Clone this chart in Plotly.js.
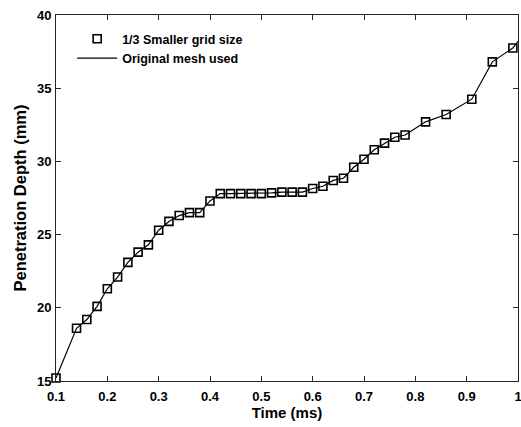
<!DOCTYPE html>
<html>
<head>
<meta charset="utf-8">
<script src="https://cdn.plot.ly/plotly-3.0.1.min.js"></script>
<style>html,body{margin:0;padding:0;background:#fff;}#chart{width:521px;height:427px;}</style>
</head>
<body>
<div id="chart"></div>
<script>
var timeFine = [0.10,0.14,0.16,0.18,0.20,0.22,0.24,0.26,0.28,0.30,0.32,0.34,0.36,0.38,0.40,0.42,0.44,0.46,0.48,0.50,0.52,0.54,0.56,0.58,0.60,0.62,0.64,0.66,0.68,0.70,0.72,0.74,0.76,0.78,0.82,0.86,0.91,0.95,0.99];
var depthFine = [15.2,18.6,19.2,20.1,21.3,22.1,23.1,23.8,24.3,25.3,25.9,26.3,26.5,26.5,27.3,27.8,27.8,27.8,27.8,27.8,27.85,27.9,27.9,27.9,28.15,28.3,28.7,28.85,29.6,30.15,30.8,31.25,31.65,31.8,32.7,33.2,34.25,36.8,37.75];
var timeOrig = [0.10,0.14,0.16,0.18,0.20,0.22,0.24,0.26,0.28,0.30,0.32,0.34,0.36,0.38,0.40,0.42,0.44,0.46,0.48,0.50,0.52,0.54,0.56,0.58,0.60,0.62,0.64,0.66,0.68,0.70,0.72,0.74,0.76,0.78,0.82,0.86,0.91,0.95,0.99,1.00];
var depthOrig = [15.2,18.6,19.2,20.1,21.3,22.1,23.1,23.8,24.3,25.3,25.9,26.3,26.5,26.5,27.3,27.8,27.8,27.8,27.8,27.8,27.85,27.9,27.9,27.9,28.15,28.3,28.7,28.85,29.6,30.15,30.8,31.25,31.65,31.8,32.7,33.2,34.25,36.8,37.75,38.2];
var xTickVals = [0.1,0.2,0.3,0.4,0.5,0.6,0.7,0.8,0.9,1];
var xTickText = ['0.1','0.2','0.3','0.4','0.5','0.6','0.7','0.8','0.9','1'];
var yTickVals = [15,20,25,30,35,40];

var FONT = 'Liberation Sans, Arial, sans-serif';
var axisColor = '#262626';
var traces = [
  {x: timeFine, y: depthFine, mode: 'markers', name: '<b>1/3 Smaller grid size</b>', cliponaxis: false,
   marker: {symbol: 'square-open', size: 8, color: '#000', line: {width: 1.6, color: '#000'}}},
  {x: timeOrig, y: depthOrig, mode: 'lines', name: '<b>Original mesh used</b>',
   line: {color: '#000', width: 1.2}}
];
var axBase = {
  showgrid: false, zeroline: false, showline: true, mirror: 'ticks',
  linecolor: axisColor, linewidth: 1, ticks: 'inside', ticklen: 5, tickcolor: axisColor,
  ticklabeloverflow: 'allow',
  tickfont: {family: FONT, size: 13, color: '#000', weight: 'bold'}
};
var layout = {
  width: 521, height: 427,
  margin: {l: 56, r: 3, t: 15, b: 46},
  paper_bgcolor: '#fff', plot_bgcolor: '#fff',
  showlegend: true,
  legend: {x: 0.035, y: 0.975, xanchor: 'left', yanchor: 'top', bgcolor: 'rgba(0,0,0,0)',
    borderwidth: 0, font: {family: FONT, size: 12.5, color: '#000'},
    tracegroupgap: 0, itemwidth: 40},
  xaxis: Object.assign({}, axBase, {range: [0.1, 1], tickvals: xTickVals, ticktext: xTickText,
    ticklabelstandoff: 3,
    title: {text: '<b>Time (ms)</b>', font: {family: FONT, size: 15, color: '#000'}, standoff: 4}}),
  yaxis: Object.assign({}, axBase, {range: [15, 40], tickvals: yTickVals, ticklabelstandoff: 1,
    title: {text: '<b>Penetration Depth (mm)</b>', font: {family: FONT, size: 16.5, color: '#000'}, standoff: 6}})
};
Plotly.newPlot('chart', traces, layout, {displayModeBar: false, staticPlot: true});
</script>
</body>
</html>
